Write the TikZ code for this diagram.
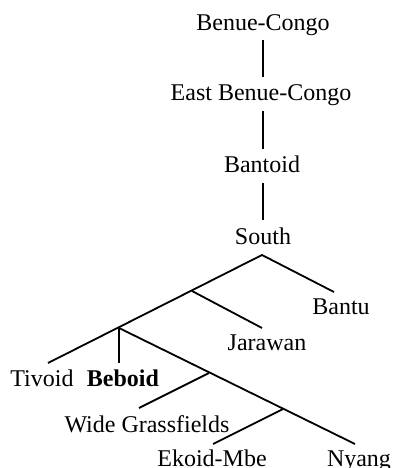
\documentclass[tikz,border=0pt]{standalone}
\usepackage{fontspec}
\setmainfont{Liberation Serif}
\begin{document}
\begin{tikzpicture}[x=1pt,y=-1pt,
  lbl/.style={font=\fontsize{24}{28}\selectfont, inner sep=0pt, anchor=base},
  edge/.style={line width=1.8pt}]
\useasboundingbox (0,0) rectangle (392,468);
% labels
\node[lbl] (bc) at (263,31) {Benue-Congo};
\node[lbl] (ebc) at (261,101) {East Benue-Congo};
\node[lbl] (bd) at (262,172) {Bantoid};
\node[lbl] (s) at (263,244) {South};
\node[lbl] (bantu) at (341,314) {Bantu};
\node[lbl] (jar) at (267,350) {Jarawan};
\node[lbl] (tiv) at (42,386) {Tivoid};
\node[lbl,font=\fontsize{24}{28}\selectfont\bfseries] (beb) at (123,386) {Beboid};
\node[lbl] (wg) at (147,432) {Wide Grassfields};
\node[lbl] (ek) at (212,466) {Ekoid-Mbe};
\node[lbl] (ny) at (359,466) {Nyang};
% line ends and branch points
\coordinate (bc-b) at (263,40);
\coordinate (ebc-t) at (263,77);
\coordinate (ebc-b) at (263,111);
\coordinate (bd-t) at (263,149);
\coordinate (bd-b) at (263,183);
\coordinate (s-t) at (263,220);
\coordinate (apex) at (262,255);
\coordinate (bantu-t) at (334,292);
\coordinate (tiv-t) at (48,363);
\coordinate (J) at (192,291);
\coordinate (jar-t) at (262,328);
\coordinate (T) at (119,328);
\coordinate (beb-t) at (119,363);
\coordinate (ny-t) at (355,444);
\coordinate (W) at (209,373);
\coordinate (wg-t) at (139,408);
\coordinate (E) at (283,409);
\coordinate (ek-t) at (213,444);
% connectors
\draw[edge] (bc-b) -- (ebc-t);
\draw[edge] (ebc-b) -- (bd-t);
\draw[edge] (bd-b) -- (s-t);
\draw[edge] (tiv-t) -- (apex) -- (bantu-t);
\draw[edge] (J) -- (jar-t);
\draw[edge] (T) -- (beb-t);
\draw[edge] (T) -- (ny-t);
\draw[edge] (W) -- (wg-t);
\draw[edge] (E) -- (ek-t);
\end{tikzpicture}
\end{document}
